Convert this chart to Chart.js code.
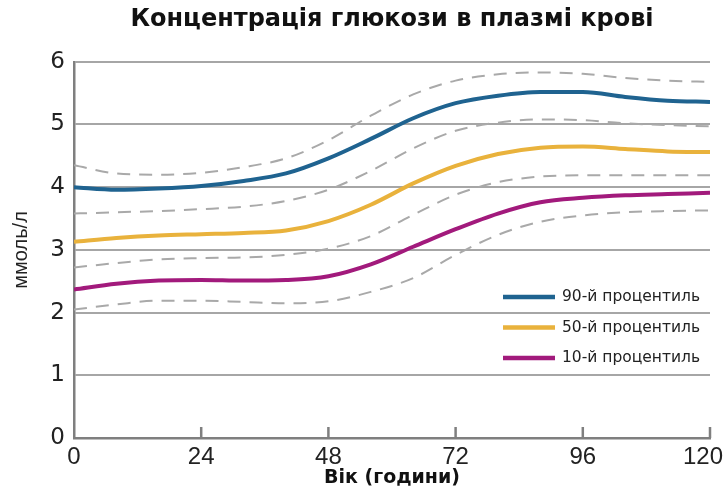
<!DOCTYPE html>
<html>
<head>
<meta charset="utf-8">
<script src="https://cdn.jsdelivr.net/npm/chart.js@4/dist/chart.umd.min.js"></script>
<style>
  html, body { margin: 0; padding: 0; background: #ffffff; }
  #wrap { width: 724px; height: 493px; }
</style>
</head>
<body>
<div id="wrap"><canvas id="chart" width="724" height="493"></canvas></div>
<script>
// Age in hours at which each curve is sampled
const hours = [0, 8, 16, 24, 32, 40, 48, 56, 64, 72, 80, 88, 96, 104, 112, 120];

// Percentile curves, mmol/L
const p90 = [4.00, 3.96, 3.98, 4.02, 4.10, 4.22, 4.46, 4.77, 5.10, 5.34, 5.46, 5.52, 5.52, 5.44, 5.38, 5.36];
const p50 = [3.13, 3.19, 3.23, 3.25, 3.27, 3.31, 3.46, 3.72, 4.06, 4.34, 4.53, 4.63, 4.65, 4.61, 4.57, 4.56];
const p10 = [2.37, 2.46, 2.51, 2.52, 2.51, 2.52, 2.58, 2.77, 3.05, 3.33, 3.58, 3.76, 3.83, 3.87, 3.89, 3.91];

// Dashed confidence bounds around the percentile curves
const band1 = [4.35, 4.22, 4.20, 4.23, 4.32, 4.46, 4.75, 5.14, 5.48, 5.70, 5.80, 5.83, 5.81, 5.74, 5.70, 5.68];
const band2 = [3.58, 3.60, 3.62, 3.65, 3.69, 3.78, 3.96, 4.26, 4.62, 4.90, 5.03, 5.08, 5.07, 5.02, 4.99, 4.97];
const band3 = [2.72, 2.79, 2.85, 2.87, 2.88, 2.92, 3.02, 3.22, 3.56, 3.88, 4.08, 4.17, 4.19, 4.19, 4.19, 4.19];
const band4 = [2.05, 2.13, 2.19, 2.19, 2.17, 2.15, 2.18, 2.33, 2.55, 2.92, 3.24, 3.45, 3.55, 3.60, 3.62, 3.63];

const seriesLabels = ['90-й процентиль', '50-й процентиль', '10-й процентиль'];
const xTicks = [0, 24, 48, 72, 96, 120];
const yTicks = [0, 1, 2, 3, 4, 5, 6];

const titleText = 'Концентрація глюкози в плазмі крові';
const xTitle = 'Вік (години)';
const yTitle = 'ммоль/л';

const toPoints = vals => hours.map((h, i) => ({ x: h, y: vals[i] }));

const colors = ['#1f6390', '#e9b23c', '#a21a7c'];
const dashColor = '#a9a9a9';
const axisColor = '#7f7f7f';

function dashed(vals) {
  return {
    data: toPoints(vals),
    borderColor: dashColor,
    borderWidth: 2,
    borderDash: [13, 9],
    pointRadius: 0,
    cubicInterpolationMode: 'monotone',
    fill: false,
    order: 5,
    inLegend: false
  };
}
function solid(vals, i) {
  return {
    label: seriesLabels[i],
    data: toPoints(vals),
    borderColor: colors[i],
    borderWidth: 4,
    pointRadius: 0,
    cubicInterpolationMode: 'monotone',
    fill: false,
    order: 1,
    inLegend: true
  };
}

// Upward tick marks on the x axis plus its hour labels;
// the last label is kept inside the canvas edge
const xAxisMarks = {
  id: 'xAxisMarks',
  afterDraw(chart) {
    const { ctx, scales: { x, y } } = chart;
    const base = y.getPixelForValue(0);
    ctx.save();
    ctx.strokeStyle = axisColor;
    ctx.lineWidth = 2.5;
    xTicks.forEach(v => {
      if (v === 0) return;
      const px = x.getPixelForValue(v);
      ctx.beginPath();
      ctx.moveTo(px, base);
      ctx.lineTo(px, base - 11);
      ctx.stroke();
    });
    ctx.font = '24px "Liberation Sans", Arial, sans-serif';
    ctx.fillStyle = '#222';
    ctx.textAlign = 'center';
    ctx.textBaseline = 'top';
    xTicks.forEach(v => {
      const txt = String(v);
      const w = ctx.measureText(txt).width;
      let px = x.getPixelForValue(v);
      px = Math.min(px, chart.width - 1 - w / 2);
      ctx.fillText(txt, px, base + 7);
    });
    ctx.restore();
  }
};

// Legend drawn inside the plot area, lower right
const innerLegend = {
  id: 'innerLegend',
  afterDraw(chart, args, opts) {
    const { ctx } = chart;
    const items = chart.data.datasets.filter(d => d.inLegend);
    ctx.save();
    ctx.font = opts.font;
    ctx.textBaseline = 'middle';
    ctx.fillStyle = '#222';
    items.forEach((d, i) => {
      const yy = opts.top + i * opts.rowGap;
      ctx.strokeStyle = d.borderColor;
      ctx.lineWidth = 4.5;
      ctx.beginPath();
      ctx.moveTo(opts.left, yy);
      ctx.lineTo(opts.left + opts.lineLen, yy);
      ctx.stroke();
      ctx.fillText(d.label, opts.left + opts.lineLen + 7, yy);
    });
    ctx.restore();
  }
};

new Chart(document.getElementById('chart'), {
  type: 'line',
  data: {
    datasets: [
      solid(p90, 0), solid(p50, 1), solid(p10, 2),
      dashed(band1), dashed(band2), dashed(band3), dashed(band4)
    ]
  },
  plugins: [xAxisMarks, innerLegend],
  options: {
    responsive: false,
    animation: false,
    layout: { padding: { left: 0, right: 14, top: 0, bottom: 0 } },
    plugins: {
      legend: { display: false },
      tooltip: { enabled: false },
      title: {
        display: true,
        fullSize: false,
        text: titleText,
        color: '#111',
        font: { family: '"DejaVu Sans", sans-serif', size: 24, weight: 'bold' },
        padding: { top: 5, bottom: 28 }
      },
      innerLegend: {
        left: 503, top: 297, rowGap: 30.5, lineLen: 52,
        font: '15.5px "DejaVu Sans", sans-serif'
      }
    },
    scales: {
      x: {
        type: 'linear',
        min: 0, max: 120,
        afterBuildTicks: s => { s.ticks = xTicks.map(v => ({ value: v })); },
        ticks: { display: false },
        grid: { display: false, drawTicks: false },
        border: { display: true, color: axisColor, width: 2.5 },
        title: {
          display: true,
          text: xTitle,
          color: '#111',
          font: { family: '"DejaVu Sans", sans-serif', size: 19, weight: 'bold' },
          padding: { top: 0, bottom: 4 }
        },
        afterFit: s => { s.height = 55; }
      },
      y: {
        min: 0, max: 6,
        afterBuildTicks: s => { s.ticks = yTicks.map(v => ({ value: v })); },
        ticks: {
          color: '#222',
          padding: 9,
          font: { family: '"DejaVu Sans", sans-serif', size: 23 }
        },
        grid: {
          drawTicks: false,
          color: ctx => (ctx.tick && ctx.tick.value === 0) ? 'rgba(0,0,0,0)' : '#a6a6a6',
          lineWidth: 2
        },
        border: { display: true, color: axisColor, width: 2.5 },
        title: {
          display: true,
          text: yTitle,
          color: '#222',
          font: { family: '"Liberation Sans", Arial, sans-serif', size: 20 },
          padding: { top: 9, bottom: 0 }
        },
        afterFit: s => { s.width = 74; }
      }
    }
  }
});
</script>
</body>
</html>
